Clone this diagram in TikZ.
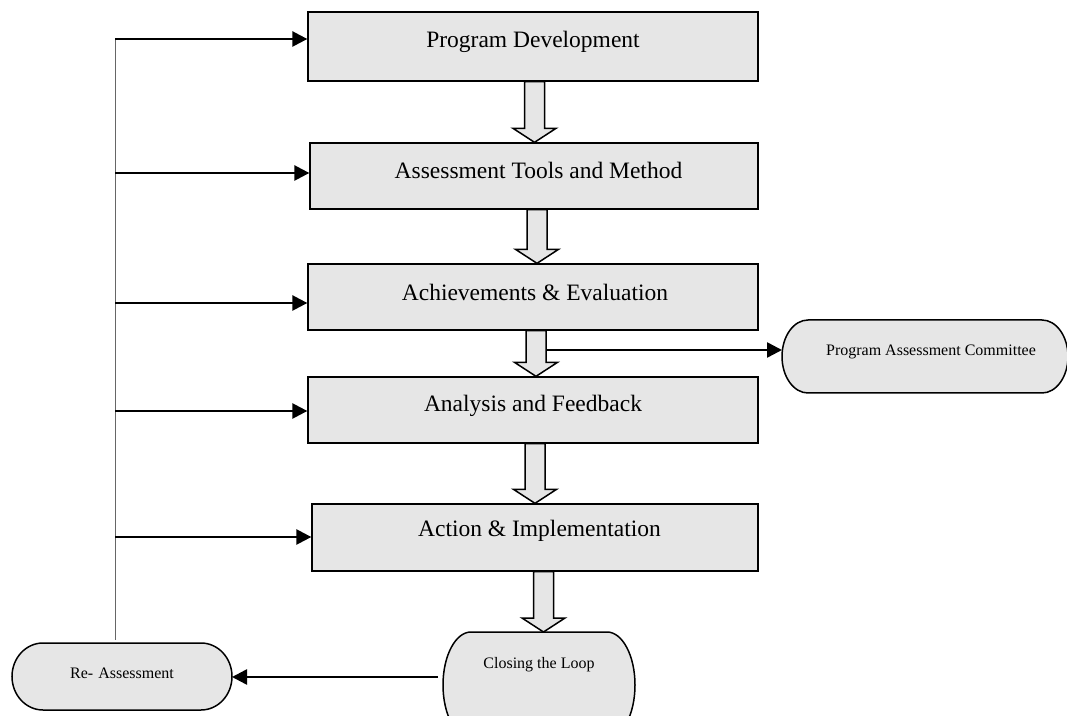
\documentclass[tikz,border=0pt]{standalone}
\usepackage{fontspec}
\setmainfont{Liberation Serif}
\usetikzlibrary{arrows.meta,backgrounds,calc}
\definecolor{boxgray}{HTML}{E6E6E6}
\newcommand{\pillshape}[3]{%
  \draw[pillshp] ([xshift=#2pt]#1.north west) -- ([xshift=-#2pt]#1.north east)
    arc[start angle=90,end angle=-90,x radius=#2pt,y radius=#3pt]
    -- ([xshift=#2pt]#1.south west)
    arc[start angle=270,end angle=90,x radius=#2pt,y radius=#3pt] -- cycle;}
\newcommand{\blkarr}[3]{%
  \path[blkarrow] let \p1=(#1.south), \p2=(#2.north) in
    ({#3pt-10pt},\y1) -- ({#3pt+10pt},\y1) -- ({#3pt+10pt},{\y2+14pt})
    -- ({#3pt+21.5pt},{\y2+14pt}) -- ({#3pt},\y2) -- ({#3pt-21.5pt},{\y2+14pt})
    -- ({#3pt-10pt},{\y2+14pt}) -- cycle;}
\tikzset{
  stepbox/.style={draw=black, fill=boxgray, line width=1.3pt, inner sep=0pt},
  boxlabel/.style={font=\fontsize{23.5}{28}\selectfont, inner sep=0pt},
  pillnode/.style={inner sep=0pt, outer sep=0pt},
  pilllabel/.style={font=\fontsize{16}{19}\selectfont, inner sep=0pt},
  pillshp/.style={draw=black, fill=boxgray, line width=1.5pt},
  blkarrow/.style={draw=black, fill=boxgray, line width=1.5pt, line join=miter},
  fbline/.style={draw=black!60, line width=1pt},
  fbarrow/.style={draw=black, line width=2.5pt, -{Triangle[length=15pt,width=15pt]}},
}
\begin{document}
\begin{tikzpicture}[x=1pt,y=1pt]
\useasboundingbox (0,0) rectangle (1067,715);

% main boxes
\node[stepbox, minimum width=450, minimum height=69,
  label={[boxlabel, yshift=5]center:Program Development}] (b1) at (533,668.5) {};
\node[stepbox, minimum width=448, minimum height=66,
  label={[boxlabel, xshift=4.5, yshift=5.5]center:Assessment Tools and Method}] (b2) at (534,539) {};
\node[stepbox, minimum width=450, minimum height=66,
  label={[boxlabel, xshift=2, yshift=4.5]center:Achievements \& Evaluation}] (b3) at (533,418) {};
\node[stepbox, minimum width=450, minimum height=66,
  label={[boxlabel, yshift=4.5]center:Analysis and Feedback}] (b4) at (533,305) {};
\node[stepbox, minimum width=446, minimum height=67,
  label={[boxlabel, xshift=4.5, yshift=7]center:Action \& Implementation}] (b5) at (535,177.5) {};

% rounded terminals
\node[pillnode, minimum width=286, minimum height=73,
  label={[pilllabel, xshift=6, yshift=5]center:Program Assessment Committee}] (pac) at (925,358.5) {};
\node[pillnode, minimum width=220, minimum height=67,
  label={[pilllabel, yshift=3]center:Re-\hspace{5pt}Assessment}] (ra) at (122,38.5) {};
\node[pillnode, minimum width=192, minimum height=106,
  label={[pilllabel, yshift=20]center:Closing the Loop}] (cl) at (539,30) {};
\begin{pgfonlayer}{background}
  \pillshape{pac}{26}{36.5}
  \pillshape{ra}{31}{33.5}
  \pillshape{cl}{28}{53}
\end{pgfonlayer}

% block arrows between steps
\blkarr{b1}{b2}{534.5}
\blkarr{b2}{b3}{537}
\blkarr{b3}{b4}{536}
\blkarr{b4}{b5}{535}
\blkarr{b5}{cl}{543.5}

% committee arrow
\coordinate (c3) at (546,365);
\draw[fbarrow] (c3) -- (c3 -| pac.west);

% closing the loop -> re-assessment
\coordinate (cs) at (438,38);
\draw[fbarrow] (cs) -- (cs -| ra.east);

% feedback line
\coordinate (f1) at (115,676);
\coordinate (f2) at (115,542);
\coordinate (f3) at (115,412);
\coordinate (f4) at (115,304);
\coordinate (f5) at (115,178);
\draw[fbline] (f1) -- ([yshift=3pt]f1 |- ra.north);
\draw[fbarrow] (f1) -- (f1 -| b1.west);
\draw[fbarrow] (f2) -- (f2 -| b2.west);
\draw[fbarrow] (f3) -- (f3 -| b3.west);
\draw[fbarrow] (f4) -- (f4 -| b4.west);
\draw[fbarrow] (f5) -- (f5 -| b5.west);
\end{tikzpicture}
\end{document}
